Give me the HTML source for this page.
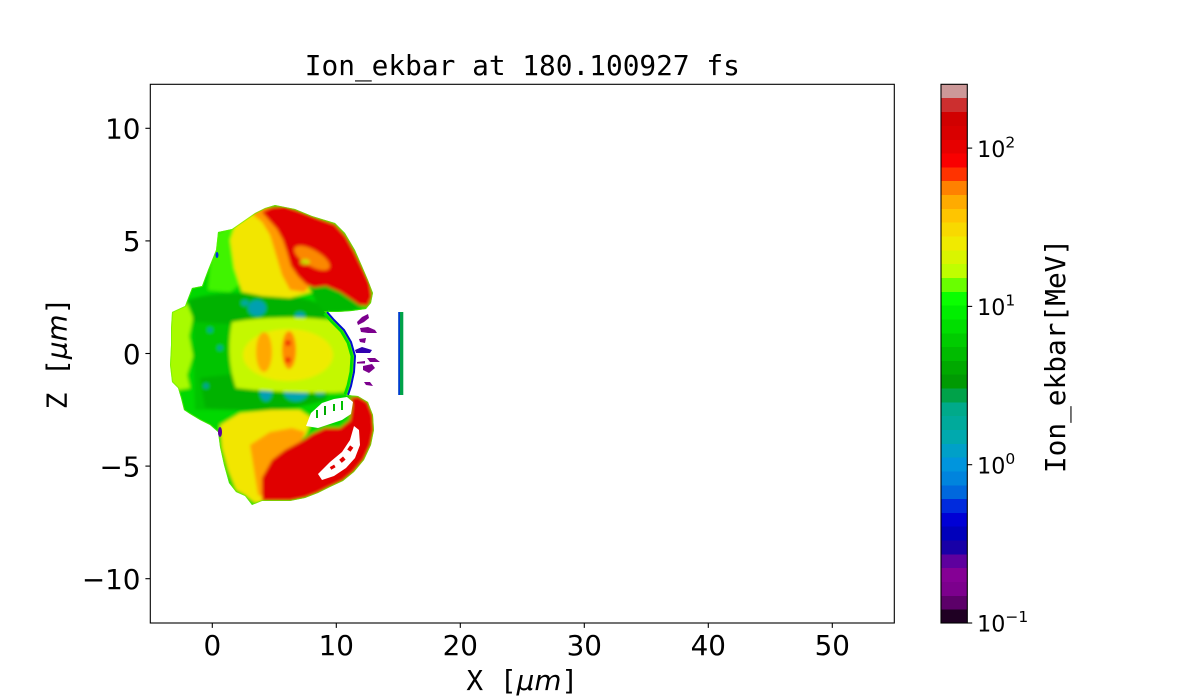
<!DOCTYPE html>
<html>
<head>
<meta charset="utf-8">
<style>
  html, body { margin: 0; padding: 0; background: #ffffff; }
  body { width: 1200px; height: 700px; overflow: hidden; }
  svg { display: block; }
</style>
</head>
<body>
<svg xmlns="http://www.w3.org/2000/svg" width="1200" height="700" viewBox="0 0 1200 700">
  <defs>
    <clipPath id="env">
      <path id="envp" d="M172,312 L185,306 L192,288 L202,286 L208,270 L216,250 L218,232 L232,229 L242,222 L255,213 L265,208 L275,205 L295,209 L312,216 L335,223 L345,233 L355,250 L362,266 L368,280 L373,293 L371,303 L366,309 L352,311 L338,312 L326,312 L333,320 L343,330 L350,342 L354,356 L353,372 L350,386 L347,395 L358,396 L368,402 L373,415 L374,430 L371,445 L364,460 L354,472 L343,481 L330,487 L318,493 L305,498 L290,501 L275,501 L262,501 L252,505 L245,496 L236,492 L229,483 L224,465 L220,447 L218,432 L210,425 L200,420 L190,414 L184,410 L181,398 L178,388 L172,382 L170,365 L171,345 L171,328 Z"/>
    </clipPath>
    <filter id="bl" x="-20%" y="-20%" width="140%" height="140%">
      <feGaussianBlur stdDeviation="1.6"/>
    </filter>
  </defs>

  <rect x="0" y="0" width="1200" height="700" fill="#ffffff"/>

  <!-- Heatmap blob -->
  <g clip-path="url(#env)">
    <g filter="url(#bl)">
      <rect x="155" y="190" width="240" height="330" fill="#00d800"/>
      <path d="M165,305 L187,304 L193,318 L189,336 L193,356 L187,375 L190,388 L165,392 Z" fill="#a8fb00"/>
      <path d="M213,235 L240,222 L248,240 L245,280 L230,292 L208,290 Z" fill="#40f400"/>
      <path d="M192,300 L235,298 L240,320 L232,340 L236,370 L232,410 L195,410 Z" fill="#00c400"/>
      <path d="M188,300 C215,290 260,292 300,298 C315,300 325,306 332,316 C300,326 250,326 195,322 Z" fill="#00b200"/>
      <path d="M200,378 C240,372 290,370 335,378 L325,400 C290,412 245,412 205,408 Z" fill="#00b200"/>
      <ellipse cx="257" cy="308" rx="9" ry="8" fill="#00a0b0"/>
      <ellipse cx="300" cy="316" rx="5" ry="4" fill="#00a0b0"/>
      <ellipse cx="245" cy="303" rx="4" ry="3" fill="#00a8a0"/>
      <ellipse cx="266" cy="392" rx="6" ry="9" fill="#00a0b5"/>
      <ellipse cx="296" cy="392" rx="12" ry="9" fill="#00a5b0"/>
      <ellipse cx="320" cy="392" rx="5" ry="4" fill="#00a8a0"/>
      <circle cx="210" cy="330" r="2.5" fill="#00a0a0"/>
      <circle cx="220" cy="348" r="2.5" fill="#00a0a0"/>
      <circle cx="206" cy="386" r="2.5" fill="#00a0a0"/>
      <path d="M232,322 C265,316 315,316 338,322 L348,335 L354,356 L351,380 L345,392 C315,394 270,392 236,388 C228,365 228,342 232,322 Z" fill="#c4f800"/>
      <ellipse cx="288" cy="355" rx="45" ry="26" fill="#eeeb00"/>
      <ellipse cx="264" cy="352" rx="8" ry="20" fill="#ffa800"/>
      <ellipse cx="289" cy="350" rx="7" ry="19" fill="#ff8a00"/>
      <circle cx="288" cy="343" r="3" fill="#f03000"/>
      <circle cx="288" cy="360" r="3" fill="#f03000"/>
      <path d="M236,222 L255,212 L268,208 L282,214 L288,235 L292,260 L300,280 L312,292 L290,298 L262,296 L242,292 L234,268 L230,240 Z" fill="#f2e600"/>
      <path d="M252,214 L265,207 L280,207 L287,222 L291,240 L294,258 L300,272 L312,284 L304,292 L290,290 L282,275 L276,255 L270,235 L262,222 Z" fill="#ff9a00"/>
      <path d="M262,212 L272,207 L285,206 L300,211 L318,218 L335,224 L346,236 L355,252 L363,268 L370,283 L372,297 L368,306 L358,305 L348,299 L338,293 L326,289 L314,288 L306,284 L298,276 L291,266 L287,252 L283,240 L277,229 L269,220 Z" fill="#e20000"/>
      <ellipse cx="312" cy="258" rx="20" ry="8" transform="rotate(30 312 258)" fill="#ffa000" opacity="0.85"/>
      <ellipse cx="305" cy="262" rx="5" ry="3" fill="#c0f000" opacity="0.8"/>
      <path d="M310,288 L326,286 L340,292 L352,300 L362,307 L352,311 L336,312 L324,312 L316,302 Z" fill="#00b800"/>
      <path d="M220,425 L240,413 L270,410 L300,410 L312,418 L306,435 L290,450 L278,470 L272,500 L255,503 L245,495 L236,490 L228,470 L222,448 Z" fill="#f2e600"/>
      <path d="M250,445 L270,432 L292,428 L305,432 L300,445 L285,455 L275,475 L268,498 L258,495 L254,470 Z" fill="#ffa000"/>
      <path d="M262,478 L272,460 L285,450 L300,442 L312,434 L325,428 L340,428 L350,420 L352,405 L350,398 L358,396 L368,402 L373,415 L374,430 L371,445 L364,460 L354,472 L343,481 L330,487 L318,493 L305,498 L290,501 L275,501 L262,501 Z" fill="#e00000"/>
    </g>
    <path d="M326,312 L333,320 L343,330 L350,342 L354,356 L353,372 L350,386 L347,395" fill="none" stroke="#00e000" stroke-width="7"/>
    <!-- white gaps in bottom arc -->
    <path d="M306,426 L311,413 L322,403 L334,399 L347,397 L353,402 L351,414 L342,420 L330,424 L318,428 Z" fill="#ffffff"/>
    <path d="M318,474 L330,462 L342,452 L350,440 L354,426 L359,430 L360,445 L355,458 L346,468 L334,476 L322,480 Z" fill="#ffffff"/>
    <g fill="#e00000">
      <rect x="340" y="458" width="5" height="4" transform="rotate(-40 342 460)"/>
      <rect x="348" y="447" width="5" height="4" transform="rotate(-55 350 449)"/>
      <rect x="330" y="466" width="5" height="3" transform="rotate(-30 332 467)"/>
    </g>
    <rect x="316" y="410" width="2" height="8" fill="#00b800"/>
    <rect x="324" y="406" width="2" height="9" fill="#00a900"/>
    <rect x="333" y="404" width="2" height="7" fill="#00b800"/>
    <rect x="341" y="401" width="2" height="9" fill="#00c000"/>
    <!-- thin light edge -->
    <use href="#envp" fill="none" stroke="#60f000" stroke-width="2" opacity="0.6"/>
  </g>

  <path d="M327,312 L334,320 L344,330 L351,342 L355,356 L354,372 L351,386 L348,395" fill="none" stroke="#0010d0" stroke-width="2"/>
  <ellipse cx="220" cy="432" rx="2" ry="5" fill="#5e009e"/>
  <ellipse cx="217" cy="255" rx="1.5" ry="3" fill="#0030e0"/>

  <g fill="#7c008d">
    <polygon points="357,322 362,317 368,314 369,318 364,322 358,325"/>
    <polygon points="360,328 368,327 375,330 377,333 368,333 361,332"/>
    <polygon points="359,339 366,338 365,343 360,342"/>
    <polygon points="357,362 365,361 365,363.5 357,363.5"/>
    <polygon points="367,358 375,358 380,362 370,362"/>
    <polygon points="363,366 372,364 375,368 369,373 363,370"/>
    <polygon points="364,382 370,382 373,386 366,385"/>
  </g>
  <polygon points="355,350 362,347 372,350 370,353 356,353" fill="#3000b0"/>

  <rect x="398.3" y="312" width="5" height="83" fill="#00a249"/>
  <rect x="398.3" y="312" width="1.6" height="83" fill="#0030e0"/>

  <!-- Axes frame -->
  <rect x="150.3" y="84.3" width="744" height="538.7" fill="none" stroke="#000" stroke-width="1.1"/>

  <g stroke="#000" stroke-width="1.1">
    <line x1="145.4" y1="128.3" x2="150.3" y2="128.3"/>
    <line x1="145.4" y1="240.9" x2="150.3" y2="240.9"/>
    <line x1="145.4" y1="353.5" x2="150.3" y2="353.5"/>
    <line x1="145.4" y1="466.1" x2="150.3" y2="466.1"/>
    <line x1="145.4" y1="578.7" x2="150.3" y2="578.7"/>
  </g>
  <g font-family="DejaVu Sans, Liberation Sans, sans-serif" font-size="27.8" fill="#000" text-anchor="end">
    <text x="140.5" y="138.6">10</text>
    <text x="140.5" y="251.2">5</text>
    <text x="140.5" y="363.8">0</text>
    <text x="140.5" y="476.4">−5</text>
    <text x="140.5" y="589">−10</text>
  </g>

  <g stroke="#000" stroke-width="1.1">
    <line x1="212.3" y1="623" x2="212.3" y2="627.9"/>
    <line x1="336.3" y1="623" x2="336.3" y2="627.9"/>
    <line x1="460.3" y1="623" x2="460.3" y2="627.9"/>
    <line x1="584.3" y1="623" x2="584.3" y2="627.9"/>
    <line x1="708.3" y1="623" x2="708.3" y2="627.9"/>
    <line x1="832.3" y1="623" x2="832.3" y2="627.9"/>
  </g>
  <g font-family="DejaVu Sans, Liberation Sans, sans-serif" font-size="27.8" fill="#000" text-anchor="middle">
    <text x="212.3" y="655">0</text>
    <text x="336.3" y="655">10</text>
    <text x="460.3" y="655">20</text>
    <text x="584.3" y="655">30</text>
    <text x="708.3" y="655">40</text>
    <text x="832.3" y="655">50</text>
  </g>

  <text x="522.3" y="690" text-anchor="middle" font-size="27.8" fill="#000"><tspan font-family="DejaVu Sans Mono, Liberation Mono, monospace">X [</tspan><tspan font-family="DejaVu Sans, Liberation Sans, sans-serif" font-style="italic">μm</tspan><tspan font-family="DejaVu Sans Mono, Liberation Mono, monospace">]</tspan></text>
  <text transform="translate(66.7,353.5) rotate(-90)" text-anchor="middle" font-size="27.8" fill="#000"><tspan font-family="DejaVu Sans Mono, Liberation Mono, monospace">Z [</tspan><tspan font-family="DejaVu Sans, Liberation Sans, sans-serif" font-style="italic">μm</tspan><tspan font-family="DejaVu Sans Mono, Liberation Mono, monospace">]</tspan></text>

  <text x="522.3" y="75" text-anchor="middle" font-family="DejaVu Sans Mono, Liberation Mono, monospace" font-size="27.8" fill="#000">Ion_ekbar at 180.100927 fs</text>

  <!-- Colorbar -->
  <g shape-rendering="crispEdges">
    <rect x="941" y="609.18" width="26.3" height="14.3" fill="#1f0023"/>
    <rect x="941" y="595.36" width="26.3" height="14.3" fill="#5c0069"/>
    <rect x="941" y="581.54" width="26.3" height="14.3" fill="#7c008d"/>
    <rect x="941" y="567.72" width="26.3" height="14.3" fill="#850095"/>
    <rect x="941" y="553.90" width="26.3" height="14.3" fill="#5e009e"/>
    <rect x="941" y="540.08" width="26.3" height="14.3" fill="#1800a7"/>
    <rect x="941" y="526.26" width="26.3" height="14.3" fill="#0000bb"/>
    <rect x="941" y="512.44" width="26.3" height="14.3" fill="#0000d5"/>
    <rect x="941" y="498.62" width="26.3" height="14.3" fill="#002bdd"/>
    <rect x="941" y="484.79" width="26.3" height="14.3" fill="#0068dd"/>
    <rect x="941" y="470.97" width="26.3" height="14.3" fill="#0084dd"/>
    <rect x="941" y="457.15" width="26.3" height="14.3" fill="#0095dd"/>
    <rect x="941" y="443.33" width="26.3" height="14.3" fill="#00a0c8"/>
    <rect x="941" y="429.51" width="26.3" height="14.3" fill="#00a9ae"/>
    <rect x="941" y="415.69" width="26.3" height="14.3" fill="#00aa9b"/>
    <rect x="941" y="401.87" width="26.3" height="14.3" fill="#00aa8a"/>
    <rect x="941" y="388.05" width="26.3" height="14.3" fill="#00a249"/>
    <rect x="941" y="374.23" width="26.3" height="14.3" fill="#009a03"/>
    <rect x="941" y="360.41" width="26.3" height="14.3" fill="#00a900"/>
    <rect x="941" y="346.59" width="26.3" height="14.3" fill="#00bb00"/>
    <rect x="941" y="332.77" width="26.3" height="14.3" fill="#00cc00"/>
    <rect x="941" y="318.95" width="26.3" height="14.3" fill="#00de00"/>
    <rect x="941" y="305.13" width="26.3" height="14.3" fill="#00ef00"/>
    <rect x="941" y="291.31" width="26.3" height="14.3" fill="#0aff00"/>
    <rect x="941" y="277.49" width="26.3" height="14.3" fill="#69ff00"/>
    <rect x="941" y="263.67" width="26.3" height="14.3" fill="#bffe00"/>
    <rect x="941" y="249.85" width="26.3" height="14.3" fill="#d9f500"/>
    <rect x="941" y="236.03" width="26.3" height="14.3" fill="#f0ea00"/>
    <rect x="941" y="222.21" width="26.3" height="14.3" fill="#f8d900"/>
    <rect x="941" y="208.38" width="26.3" height="14.3" fill="#ffc500"/>
    <rect x="941" y="194.56" width="26.3" height="14.3" fill="#ffab00"/>
    <rect x="941" y="180.74" width="26.3" height="14.3" fill="#ff8100"/>
    <rect x="941" y="166.92" width="26.3" height="14.3" fill="#ff3300"/>
    <rect x="941" y="153.10" width="26.3" height="14.3" fill="#f90000"/>
    <rect x="941" y="139.28" width="26.3" height="14.3" fill="#e70000"/>
    <rect x="941" y="125.46" width="26.3" height="14.3" fill="#d90000"/>
    <rect x="941" y="111.64" width="26.3" height="14.3" fill="#d10000"/>
    <rect x="941" y="97.82" width="26.3" height="14.3" fill="#cc2f2f"/>
    <rect x="941" y="84.0" width="26.3" height="13.82" fill="#cc9898"/>
  </g>
  <rect x="941" y="84.3" width="26.3" height="538.7" fill="none" stroke="#000" stroke-width="1.1"/>
  <g stroke="#000" stroke-width="1.1">
    <line x1="967.3" y1="623" x2="972.2" y2="623"/>
    <line x1="967.3" y1="464.7" x2="972.2" y2="464.7"/>
    <line x1="967.3" y1="306.4" x2="972.2" y2="306.4"/>
    <line x1="967.3" y1="148.1" x2="972.2" y2="148.1"/>
  </g>
  <g font-family="DejaVu Sans, Liberation Sans, sans-serif" font-size="22.2" fill="#000">
    <text x="977.1" y="631.7">10<tspan dy="-9.5" font-size="15.5">−1</tspan></text>
    <text x="977.1" y="473.4">10<tspan dy="-9.5" font-size="15.5">0</tspan></text>
    <text x="977.1" y="315.1">10<tspan dy="-9.5" font-size="15.5">1</tspan></text>
    <text x="977.1" y="156.8">10<tspan dy="-9.5" font-size="15.5">2</tspan></text>
  </g>
  <text transform="translate(1065,356) rotate(-90)" text-anchor="middle" font-family="DejaVu Sans Mono, Liberation Mono, monospace" font-size="27.8" fill="#000">Ion_ekbar[MeV]</text>
</svg>
</body>
</html>
